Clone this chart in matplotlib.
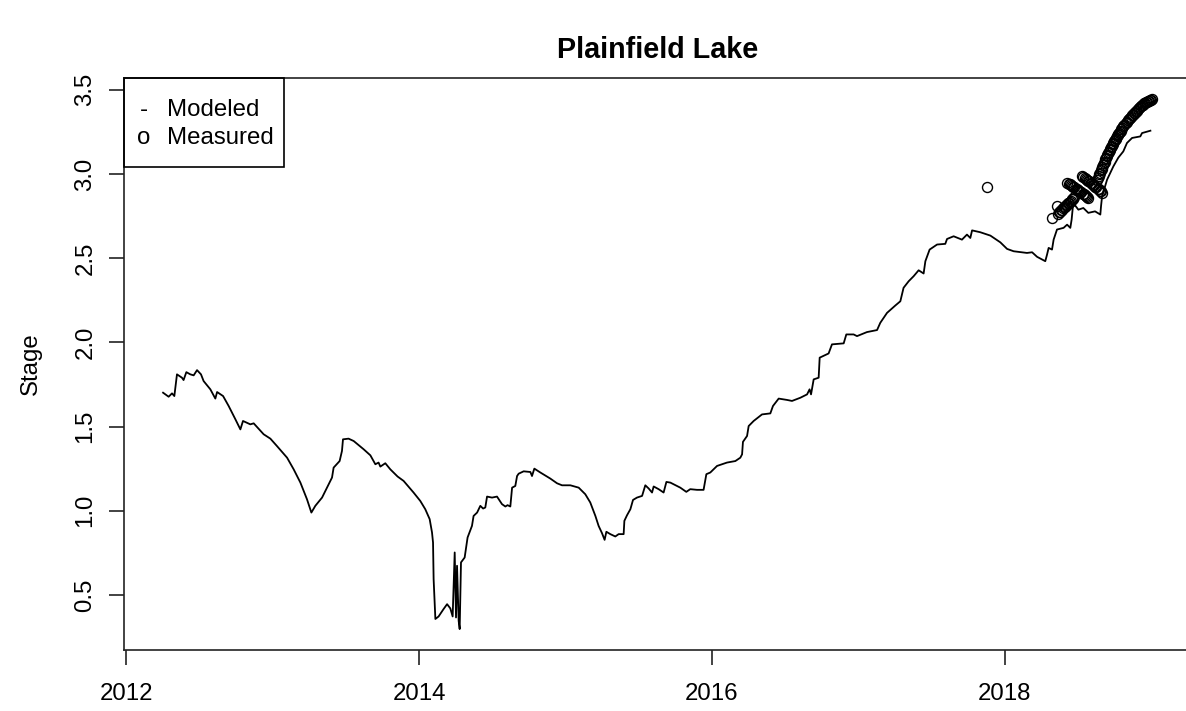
import matplotlib
matplotlib.use("Agg")
import matplotlib.pyplot as plt
from matplotlib.patches import Rectangle

plt.rcParams["font.family"] = ["Liberation Sans", "DejaVu Sans"]

# Modeled stage (decimal year, stage)
model_year = [
    2012.251, 2012.289, 2012.312, 2012.328, 2012.346, 2012.380, 2012.391, 2012.410,
    2012.437, 2012.460, 2012.483, 2012.510, 2012.528, 2012.574, 2012.608, 2012.620,
    2012.661, 2012.699, 2012.745, 2012.779, 2012.797, 2012.847, 2012.870, 2012.938,
    2012.984, 2013.029, 2013.098, 2013.143, 2013.189, 2013.234, 2013.264, 2013.291,
    2013.337, 2013.371, 2013.405, 2013.416, 2013.457, 2013.473, 2013.480, 2013.518,
    2013.553, 2013.621, 2013.667, 2013.701, 2013.723, 2013.735, 2013.769, 2013.803,
    2013.837, 2013.853, 2013.894, 2013.962, 2014.008, 2014.042, 2014.072, 2014.088,
    2014.095, 2014.099, 2014.111, 2014.133, 2014.167, 2014.191, 2014.213, 2014.229,
    2014.236, 2014.243, 2014.252, 2014.259, 2014.270, 2014.277, 2014.286, 2014.311,
    2014.331, 2014.361, 2014.372, 2014.396, 2014.418, 2014.437, 2014.452, 2014.464,
    2014.498, 2014.532, 2014.566, 2014.589, 2014.604, 2014.623, 2014.635, 2014.657,
    2014.669, 2014.680, 2014.714, 2014.760, 2014.771, 2014.787, 2014.828, 2014.896,
    2014.942, 2014.976, 2015.033, 2015.090, 2015.135, 2015.169, 2015.204, 2015.226,
    2015.249, 2015.267, 2015.279, 2015.306, 2015.340, 2015.363, 2015.397, 2015.402,
    2015.420, 2015.443, 2015.461, 2015.488, 2015.523, 2015.545, 2015.568, 2015.591,
    2015.602, 2015.636, 2015.670, 2015.689, 2015.716, 2015.784, 2015.825, 2015.852,
    2015.898, 2015.943, 2015.962, 2015.989, 2016.035, 2016.103, 2016.160, 2016.194,
    2016.206, 2016.212, 2016.240, 2016.251, 2016.285, 2016.342, 2016.399, 2016.417,
    2016.456, 2016.513, 2016.547, 2016.604, 2016.650, 2016.667, 2016.677, 2016.695,
    2016.729, 2016.736, 2016.797, 2016.820, 2016.900, 2016.918, 2016.968, 2016.991,
    2017.059, 2017.128, 2017.150, 2017.196, 2017.253, 2017.287, 2017.309, 2017.344,
    2017.378, 2017.412, 2017.446, 2017.458, 2017.487, 2017.538, 2017.594, 2017.606,
    2017.651, 2017.708, 2017.742, 2017.765, 2017.777, 2017.833, 2017.902, 2017.970,
    2018.016, 2018.061, 2018.152, 2018.187, 2018.221, 2018.277, 2018.289, 2018.300,
    2018.323, 2018.334, 2018.357, 2018.402, 2018.426, 2018.448, 2018.457, 2018.468,
    2018.503, 2018.537, 2018.571, 2018.617, 2018.653, 2018.658, 2018.665, 2018.699,
    2018.742, 2018.776, 2018.810, 2018.835, 2018.870, 2018.926, 2018.938, 2018.995,
]
model_stage = [
    1.701, 1.677, 1.697, 1.681, 1.810, 1.790, 1.776, 1.823,
    1.810, 1.804, 1.835, 1.810, 1.770, 1.721, 1.666, 1.705,
    1.681, 1.622, 1.543, 1.483, 1.533, 1.513, 1.519, 1.454,
    1.428, 1.384, 1.315, 1.246, 1.167, 1.068, 0.989, 1.029,
    1.078, 1.137, 1.197, 1.256, 1.295, 1.355, 1.424, 1.428,
    1.414, 1.365, 1.329, 1.276, 1.286, 1.262, 1.282, 1.246,
    1.217, 1.203, 1.177, 1.108, 1.058, 1.009, 0.950, 0.871,
    0.811, 0.594, 0.357, 0.372, 0.416, 0.445, 0.420, 0.372,
    0.554, 0.752, 0.366, 0.673, 0.346, 0.297, 0.693, 0.722,
    0.841, 0.910, 0.969, 0.989, 1.029, 1.013, 1.019, 1.084,
    1.078, 1.084, 1.039, 1.025, 1.033, 1.025, 1.137, 1.147,
    1.206, 1.220, 1.234, 1.230, 1.206, 1.250, 1.227, 1.191,
    1.163, 1.151, 1.151, 1.137, 1.098, 1.049, 0.969, 0.910,
    0.867, 0.827, 0.875, 0.861, 0.847, 0.861, 0.861, 0.940,
    0.973, 1.009, 1.064, 1.078, 1.088, 1.151, 1.132, 1.108,
    1.144, 1.128, 1.108, 1.171, 1.167, 1.137, 1.112, 1.128,
    1.124, 1.124, 1.217, 1.227, 1.266, 1.286, 1.295, 1.315,
    1.335, 1.409, 1.444, 1.503, 1.533, 1.572, 1.578, 1.622,
    1.666, 1.658, 1.652, 1.671, 1.691, 1.721, 1.691, 1.780,
    1.790, 1.909, 1.934, 1.988, 1.994, 2.047, 2.047, 2.037,
    2.061, 2.073, 2.116, 2.175, 2.219, 2.244, 2.324, 2.363,
    2.393, 2.428, 2.409, 2.482, 2.551, 2.581, 2.585, 2.614,
    2.630, 2.610, 2.640, 2.620, 2.665, 2.654, 2.634, 2.594,
    2.555, 2.541, 2.531, 2.535, 2.508, 2.482, 2.521, 2.561,
    2.551, 2.610, 2.670, 2.680, 2.699, 2.680, 2.729, 2.828,
    2.788, 2.798, 2.769, 2.778, 2.759, 2.810, 2.867, 2.966,
    3.045, 3.097, 3.134, 3.184, 3.214, 3.223, 3.243, 3.257,
]

# Measured stage (decimal year, stage)
meas_year = [
    2017.879,
    # spring readings
    2018.323, 2018.357, 2018.362, 2018.369, 2018.376, 2018.383, 2018.390, 2018.397,
    2018.404, 2018.411, 2018.418, 2018.425, 2018.432, 2018.439, 2018.446, 2018.453,
    2018.460, 2018.467, 2018.474,
    # early summer
    2018.428, 2018.436, 2018.444, 2018.452, 2018.460, 2018.468, 2018.476, 2018.484,
    2018.492, 2018.500, 2018.508, 2018.516, 2018.524, 2018.532, 2018.540, 2018.548,
    2018.556, 2018.564, 2018.571,
    # mid summer
    2018.530, 2018.538, 2018.546, 2018.554, 2018.562, 2018.570, 2018.578, 2018.586,
    2018.594, 2018.602, 2018.610, 2018.618, 2018.626, 2018.634, 2018.642, 2018.650,
    2018.658, 2018.667,
    # late summer and autumn
    2018.632, 2018.637, 2018.642, 2018.647, 2018.652, 2018.657, 2018.662, 2018.667,
    2018.672, 2018.677, 2018.682, 2018.687, 2018.692, 2018.697, 2018.702, 2018.707,
    2018.712, 2018.717, 2018.722, 2018.727, 2018.732, 2018.737, 2018.742, 2018.747,
    2018.752, 2018.757, 2018.762, 2018.767, 2018.772, 2018.777, 2018.782, 2018.787,
    2018.792, 2018.797, 2018.804, 2018.811, 2018.818, 2018.825, 2018.832, 2018.839,
    2018.846, 2018.853, 2018.860, 2018.867, 2018.874, 2018.881, 2018.888, 2018.895,
    2018.902, 2018.909, 2018.916, 2018.923, 2018.930, 2018.937, 2018.944, 2018.951,
    2018.958, 2018.965, 2018.972, 2018.979, 2018.986, 2018.993, 2019.000, 2019.008,
]
meas_stage = [
    2.923,
    2.739, 2.808, 2.764, 2.772, 2.776, 2.784, 2.788, 2.795,
    2.801, 2.805, 2.813, 2.817, 2.825, 2.829, 2.836, 2.841,
    2.849, 2.854, 2.862,
    2.948, 2.943, 2.940, 2.932, 2.929, 2.924, 2.920, 2.913,
    2.910, 2.904, 2.900, 2.893, 2.890, 2.883, 2.880, 2.873,
    2.870, 2.863, 2.859,
    2.990, 2.983, 2.979, 2.971, 2.967, 2.960, 2.956, 2.948,
    2.944, 2.936, 2.932, 2.924, 2.920, 2.912, 2.908, 2.900,
    2.896, 2.889,
    2.966, 2.978, 2.987, 2.999, 3.008, 3.021, 3.029, 3.042,
    3.051, 3.064, 3.073, 3.086, 3.093, 3.105, 3.113, 3.125,
    3.133, 3.144, 3.151, 3.162, 3.168, 3.179, 3.185, 3.195,
    3.200, 3.210, 3.215, 3.225, 3.230, 3.239, 3.244, 3.252,
    3.257, 3.265, 3.272, 3.283, 3.290, 3.301, 3.308, 3.319,
    3.325, 3.335, 3.340, 3.349, 3.353, 3.361, 3.365, 3.373,
    3.377, 3.385, 3.389, 3.397, 3.401, 3.408, 3.412, 3.419,
    3.421, 3.427, 3.429, 3.435, 3.436, 3.441, 3.442, 3.447,
]

year_ticks = [2012, 2014, 2016, 2018]
stage_ticks = [0.5, 1.0, 1.5, 2.0, 2.5, 3.0, 3.5]
legend_symbols = ["-", "o"]
legend_labels = ["Modeled", "Measured"]

W, H = 1186, 711
fig = plt.figure(figsize=(W / 100, H / 100), dpi=100)

# axis ranges padded by 4% of the data span on each side
all_x = model_year + meas_year
all_y = model_stage + meas_stage
xr = max(all_x) - min(all_x)
yr = max(all_y) - min(all_y)
xlim = (min(all_x) - 0.04 * xr, max(all_x) + 0.04 * xr)
ylim = (min(all_y) - 0.04 * yr, max(all_y) + 0.04 * yr)

left_px, top_px, bottom_px = 123.5, 77.5, 650.3
px_per_year = 146.4
width_px = (xlim[1] - xlim[0]) * px_per_year
ax = fig.add_axes([left_px / W, 1 - bottom_px / H, width_px / W, (bottom_px - top_px) / H])

ax.plot(model_year, model_stage, color="black", lw=1.3)
ax.plot(meas_year, meas_stage, linestyle="none", marker="o", mfc="none",
        mec="black", ms=7.2, mew=1.0)

ax.set_xlim(*xlim)
ax.set_ylim(*ylim)

ax.set_xticks(year_ticks)
ax.set_xticklabels([str(y) for y in year_ticks])
ax.set_yticks(stage_ticks)
ax.set_yticklabels([f"{v:.1f}" for v in stage_ticks], rotation=90, va="center")

for s in ax.spines.values():
    s.set_linewidth(1.2)
    s.set_color("#222222")
ax.tick_params(axis="both", direction="out", length=10.5, width=1.2,
               color="#222222", labelsize=17.3)
ax.tick_params(axis="x", pad=13)
ax.tick_params(axis="y", pad=9)

fig.text(31 / W, 1 - 364 / H, "Stage", rotation=90, ha="center", va="center",
         fontsize=17.3)
fig.text((left_px + width_px / 2) / W, 1 - 58 / H, "Plainfield Lake",
         ha="center", va="baseline", fontsize=20.7, fontweight="bold")

# legend box in the top-left corner
leg_right = 284.3
leg_bottom = 166.7
fig.patches.append(Rectangle((left_px / W, 1 - leg_bottom / H),
                             (leg_right - left_px) / W, (leg_bottom - top_px) / H,
                             transform=fig.transFigure, fill=False,
                             edgecolor="black", lw=1.2))
row_y = [110, 138.5]
for sym, lab, yy in zip(legend_symbols, legend_labels, row_y):
    fig.text(144 / W, 1 - yy / H, sym, ha="center", va="center", fontsize=17.3)
    fig.text(167.3 / W, 1 - yy / H, lab, ha="left", va="center", fontsize=17.3)

fig.savefig("out.png", dpi=100, facecolor="white")
